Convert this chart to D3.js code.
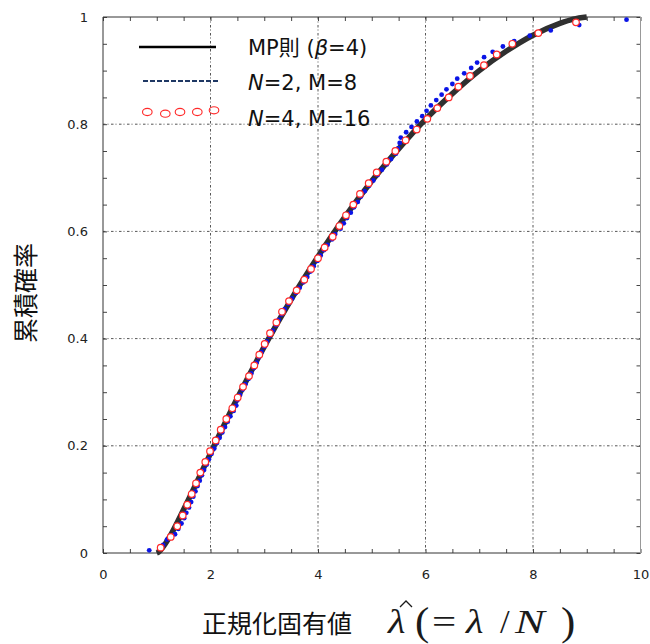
<!DOCTYPE html>
<html>
<head>
<meta charset="utf-8">
<script src="https://cdn.jsdelivr.net/npm/d3@7"></script>
<style>
  html, body { margin: 0; padding: 0; background: #fff; }
  svg { display: block; }
</style>
</head>
<body>
<svg id="chart" width="650" height="644"></svg>
<script>
// Marchenko–Pastur cumulative distribution (beta = 4)
const mpX = [1, 1.03, 1.05, 1.1, 1.25, 1.5, 1.75, 2, 2.5, 3, 3.5, 4, 4.5, 5, 5.5, 6, 6.5, 7, 7.5, 8, 8.5, 8.75, 9];
const mpF = [0, 0.0015, 0.0032, 0.009, 0.032, 0.081, 0.133, 0.186, 0.289, 0.385, 0.473, 0.553, 0.627, 0.694, 0.754, 0.809, 0.857, 0.900, 0.936, 0.966, 0.988, 0.996, 1];

// Empirical CDF, N=2, M=8
const n2Y = [0.005, 0.015, 0.025, 0.035, 0.045, 0.055, 0.065, 0.075, 0.085, 0.095,
             0.105, 0.115, 0.125, 0.135, 0.145, 0.155, 0.165, 0.175, 0.185, 0.195,
             0.205, 0.215, 0.225, 0.235, 0.245, 0.255, 0.265, 0.275, 0.285, 0.295,
             0.305, 0.315, 0.325, 0.335, 0.345, 0.355, 0.365, 0.375, 0.385, 0.395,
             0.405, 0.415, 0.425, 0.435, 0.445, 0.455, 0.465, 0.475, 0.485, 0.495,
             0.505, 0.515, 0.525, 0.535, 0.545, 0.555, 0.565, 0.575, 0.585, 0.595,
             0.605, 0.615, 0.625, 0.635, 0.645, 0.655, 0.665, 0.675, 0.685, 0.695,
             0.705, 0.715, 0.725, 0.735, 0.745, 0.755, 0.765, 0.775, 0.785, 0.795,
             0.805, 0.815, 0.825, 0.835, 0.845, 0.855, 0.865, 0.875, 0.885, 0.895,
             0.905, 0.915, 0.925, 0.935, 0.945, 0.955, 0.965, 0.975, 0.985, 0.995];
const n2X = [0.86, 1.12, 1.19, 1.34, 1.40, 1.46, 1.51, 1.55, 1.60, 1.64,
             1.68, 1.72, 1.76, 1.80, 1.84, 1.88, 1.93, 1.97, 2.02, 2.07,
             2.12, 2.17, 2.22, 2.27, 2.32, 2.37, 2.43, 2.48, 2.50, 2.55,
             2.60, 2.65, 2.71, 2.76, 2.81, 2.86, 2.90, 2.95, 3.00, 3.05,
             3.10, 3.16, 3.22, 3.27, 3.32, 3.38, 3.45, 3.52, 3.59, 3.66,
             3.73, 3.80, 3.86, 3.92, 3.99, 4.05, 4.11, 4.18, 4.26, 4.32,
             4.42, 4.48, 4.54, 4.61, 4.67, 4.74, 4.80, 4.87, 4.95, 5.03,
             5.11, 5.19, 5.28, 5.36, 5.45, 5.49, 5.52, 5.54, 5.64, 5.74,
             5.84, 5.94, 6.02, 6.10, 6.20, 6.30, 6.39, 6.50, 6.59, 6.72,
             6.85, 6.96, 7.09, 7.25, 7.44, 7.65, 7.94, 8.33, 8.86, 9.74];

// Empirical CDF, N=4, M=16
const n4Y = [0.01, 0.03, 0.05, 0.07, 0.09, 0.11, 0.13, 0.15, 0.17, 0.19,
             0.21, 0.23, 0.25, 0.27, 0.29, 0.31, 0.33, 0.35, 0.37, 0.39,
             0.41, 0.43, 0.45, 0.47, 0.49, 0.51, 0.53, 0.55, 0.57, 0.59,
             0.61, 0.63, 0.65, 0.67, 0.69, 0.71, 0.73, 0.75, 0.77, 0.79,
             0.81, 0.83, 0.85, 0.87, 0.89, 0.91, 0.93, 0.95, 0.97, 0.99];
const n4X = [1.073, 1.260, 1.382, 1.483, 1.568, 1.650, 1.730, 1.810, 1.903, 1.991,
             2.097, 2.190, 2.294, 2.406, 2.506, 2.605, 2.716, 2.815, 2.908, 3.008,
             3.107, 3.225, 3.330, 3.460, 3.603, 3.745, 3.870, 4.000, 4.124, 4.273,
             4.397, 4.521, 4.657, 4.781, 4.943, 5.092, 5.271, 5.439, 5.631, 5.836,
             6.034, 6.220, 6.432, 6.611, 6.828, 7.088, 7.325, 7.615, 8.099, 8.800];

const xMajor = [0, 2, 4, 6, 8, 10];
const yMajor = [0, 0.2, 0.4, 0.6, 0.8, 1];

const SANS = "'DejaVu Sans', 'Noto Sans CJK JP', sans-serif";
const CJK = "'Noto Sans CJK JP', sans-serif";
const SERIF = "'Liberation Serif', 'DejaVu Serif', serif";

const svg = d3.select("#chart");
const pL = 103, pR = 640.5, pT = 17, pB = 553;
const x = d3.scaleLinear().domain([0, 10]).range([pL, pR]);
const y = d3.scaleLinear().domain([0, 1]).range([pB, pT]);

// grid
const gridDash = "2.5,2,1,2.5";
svg.append("g").selectAll("line").data(xMajor.slice(1, -1)).join("line")
  .attr("x1", d => x(d)).attr("x2", d => x(d)).attr("y1", pT).attr("y2", pB)
  .attr("stroke", "#555").attr("stroke-width", 1).attr("stroke-dasharray", gridDash);
svg.append("g").selectAll("line").data(yMajor.slice(1, -1)).join("line")
  .attr("y1", d => y(d)).attr("y2", d => y(d)).attr("x1", pL).attr("x2", pR)
  .attr("stroke", "#555").attr("stroke-width", 1).attr("stroke-dasharray", gridDash);

// minor ticks on all four sides
const xMinor = d3.range(0, 10.001, 0.5);
const yMinor = d3.range(0, 1.0001, 0.05);
function tickAxis(axis, tr) {
  const g = svg.append("g").attr("transform", tr).call(axis);
  g.select(".domain").remove();
  g.selectAll(".tick line").attr("stroke", "#444");
  return g;
}
tickAxis(d3.axisBottom(x).tickValues(xMinor).tickSize(-4).tickFormat(""), `translate(0,${pB})`);
tickAxis(d3.axisTop(x).tickValues(xMinor).tickSize(-4).tickFormat(""), `translate(0,${pT})`);
tickAxis(d3.axisLeft(y).tickValues(yMinor).tickSize(-4).tickFormat(""), `translate(${pL},0)`);
tickAxis(d3.axisRight(y).tickValues(yMinor).tickSize(-4).tickFormat(""), `translate(${pR},0)`);

// frame
svg.append("path")
  .attr("d", `M${pR},${pT}H${pL}V${pB}H${pR}`)
  .attr("fill", "none").attr("stroke", "#333").attr("stroke-width", 1);
svg.append("line").attr("x1", pR).attr("x2", pR).attr("y1", pT).attr("y2", pB)
  .attr("stroke", "#999").attr("stroke-width", 1);

// tick labels
const xl = svg.append("g").attr("transform", `translate(0,${pB})`)
  .call(d3.axisBottom(x).tickValues(xMajor).tickSize(0).tickPadding(17).tickFormat(d3.format("d")));
xl.select(".domain").remove();
xl.attr("font-family", SANS).attr("font-size", 13);
xl.selectAll("text").attr("fill", "#222");
const yl = svg.append("g").attr("transform", `translate(${pL},0)`)
  .call(d3.axisLeft(y).tickValues(yMajor).tickSize(0).tickPadding(15).tickFormat(d => String(+d.toFixed(1))));
yl.select(".domain").remove();
yl.attr("font-family", SANS).attr("font-size", 13);
yl.selectAll("text").attr("fill", "#222");

// MP curve
const line = d3.line().x(d => x(d[0])).y(d => y(d[1])).curve(d3.curveMonotoneX);
svg.append("path").datum(mpX.map((v, i) => [v, mpF[i]]))
  .attr("d", line).attr("fill", "none").attr("stroke", "#303030").attr("stroke-width", 5.5);

// N=2 points
svg.append("g").selectAll("circle").data(n2X.map((v, i) => [v, n2Y[i]])).join("circle")
  .attr("cx", d => x(d[0])).attr("cy", d => y(d[1])).attr("r", 2.4).attr("fill", "#0a14e6");

// N=4 points
svg.append("g").selectAll("circle").data(n4X.map((v, i) => [v, n4Y[i]])).join("circle")
  .attr("cx", d => x(d[0])).attr("cy", d => y(d[1])).attr("r", 3.3)
  .attr("fill", "#fff").attr("stroke", "#ff2a2a").attr("stroke-width", 1.2);

// legend
const lg = svg.append("g");
lg.append("line").attr("x1", 139).attr("x2", 216).attr("y1", 47).attr("y2", 47)
  .attr("stroke", "#000").attr("stroke-width", 2.5);
lg.append("line").attr("x1", 143).attr("x2", 218).attr("y1", 81).attr("y2", 81)
  .attr("stroke", "#1f3864").attr("stroke-width", 2).attr("stroke-dasharray", "5,2");
const legRings = [147.3, 165.3, 180, 197.3, 214];
const legRingY = [112, 113.7, 112, 112, 110.3];
lg.selectAll("ellipse").data(legRings).join("ellipse")
  .attr("cx", d => d).attr("cy", (d, i) => legRingY[i]).attr("rx", 4.8).attr("ry", 3.6)
  .attr("fill", "none").attr("stroke", "#ff2a2a").attr("stroke-width", 1.1);

function legText(yPos, parts) {
  const t = lg.append("text").attr("x", 248).attr("y", yPos)
    .attr("font-family", SANS).attr("font-size", 21).attr("fill", "#111");
  parts.forEach(p => {
    const s = t.append("tspan").text(p[0]);
    if (p[1]) s.attr("font-style", "italic");
    if (p[2]) s.attr("font-family", CJK);
  });
}
legText(55, [["MP", false], ["則", false, true], [" (", false], ["β", true], ["=4)", false]]);
legText(90, [["N", true], ["=2, M=8", false]]);
legText(126, [["N", true], ["=4, M=16", false]]);

// axis titles
svg.append("text").attr("transform", "translate(35,293) rotate(-90)")
  .attr("text-anchor", "middle").attr("font-family", CJK).attr("font-size", 25)
  .attr("fill", "#111").text("累積確率");
svg.append("text").attr("x", 202).attr("y", 633).attr("font-family", CJK)
  .attr("font-size", 25).attr("fill", "#111").text("正規化固有値");

// normalised eigenvalue symbol: glyph, left x, baseline, size, italic, horizontal stretch
const mathParts = [
  ["λ", 388, 633, 33, true, 1.22],
  ["(", 415, 635, 39, false, 1.1],
  ["=", 432, 633, 33, false, 1.3],
  ["λ", 466, 633, 33, true, 1.22],
  ["/", 500, 633, 33, false, 1.05],
  ["N", 515, 633, 33, true, 1.35],
  [")", 561, 635, 39, false, 1.1]
];
const mg = svg.append("g").attr("fill", "#1a1a1a").attr("font-family", SERIF);
mathParts.forEach(p => {
  const t = mg.append("text")
    .attr("transform", `translate(${p[1]},${p[2]}) scale(${p[5]},1)`)
    .attr("font-size", p[3]).text(p[0]);
  if (p[4]) t.attr("font-style", "italic");
});
// circumflex accent over the first lambda
mg.append("path").attr("d", "M400,607 L406,601 L412,607")
  .attr("fill", "none").attr("stroke", "#1a1a1a").attr("stroke-width", 1.3);
</script>
</body>
</html>
